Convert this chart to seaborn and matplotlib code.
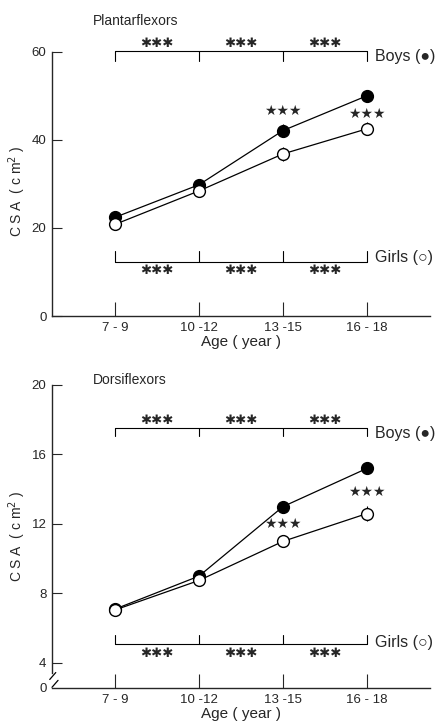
import numpy as np
import pandas as pd
import matplotlib
matplotlib.use("Agg")
import matplotlib.pyplot as plt
import seaborn as sns

# ---- data ----
ages = ["7-9", "10-12", "13-15", "16-18"]
age_labels = ["7 - 9", "10 -12", "13 -15", "16 - 18"]

pf_boys = [22.4, 29.8, 42.1, 50.0]
pf_girls = [20.8, 28.4, 36.8, 42.5]
pf_boys_se = [1.4, 1.4, 1.4, 1.3]
pf_girls_se = [1.3, 1.3, 1.5, 1.5]

df_boys = [7.1, 9.0, 13.0, 15.2]
df_girls = [7.05, 8.75, 11.0, 12.6]
df_boys_se = [0.3, 0.3, 0.35, 0.35]
df_girls_se = [0.3, 0.3, 0.35, 0.45]

pf_yticks = [0, 20, 40, 60]
df_yticks = [4, 8, 12, 16, 20]

sns.set_style("ticks")
plt.rcParams["font.family"] = ["Liberation Sans", "DejaVu Sans"]

fig = plt.figure(figsize=(4.44, 7.22), dpi=100)
ax1 = fig.add_axes([0.1171, 0.5623, 0.8514, 0.3661])
ax2 = fig.add_axes([0.1171, 0.0471, 0.8514, 0.4197])

pos = np.arange(len(ages))
AST = "\u2731\u2731\u2731"
STAR = "\u2605\u2605\u2605"


def draw_series(ax, vals, se, face):
    ax.errorbar(pos, vals, yerr=se, fmt="none", ecolor="black", elinewidth=0.8, capsize=0, zorder=1)
    sns.lineplot(x=pos, y=vals, ax=ax, color="black", marker="o", markersize=8.5,
                 markerfacecolor=face, markeredgecolor="black", markeredgewidth=1.0,
                 linewidth=0.9, zorder=2)


def bracket(ax, y, tick, stars_y, label, label_y):
    # horizontal bracket spanning the age groups, small ticks at each group
    ax.plot([pos[0], pos[-1]], [y, y], color="black", lw=0.8, clip_on=False)
    for p in pos:
        ax.plot([p, p], [y, y + tick], color="black", lw=0.8, clip_on=False)
    for p in pos[:-1]:
        ax.text(p + 0.5, stars_y, AST, ha="center", va="center", fontsize=9.5,
                family="DejaVu Sans", clip_on=False)
    ax.text(pos[-1] + 0.1, label_y, label, ha="left", va="center", fontsize=11.5, clip_on=False)


def style_axes(ax):
    sns.despine(ax=ax)
    ax.set_xlim(-0.75, 3.75)
    ax.set_xticks(pos)
    ax.set_xticklabels(age_labels, fontsize=9.5)
    ax.tick_params(axis="x", direction="in", length=10, width=0.8, pad=4)
    ax.tick_params(axis="y", direction="in", length=7, width=0.8, pad=4, labelsize=9.5)
    for s in ["left", "bottom"]:
        ax.spines[s].set_linewidth(1.0)
    ax.set_xlabel("Age ( year )", fontsize=11, labelpad=1)


# ---- Plantarflexors ----
draw_series(ax1, pf_boys, pf_boys_se, "black")
draw_series(ax1, pf_girls, pf_girls_se, "white")
style_axes(ax1)
ax1.set_ylim(0, 60)
ax1.set_yticks(pf_yticks)
ax1.set_ylabel("C S A  ( c m$^2$ )", fontsize=10, va="center")
ax1.yaxis.set_label_coords(-0.093, 0.47)
ax1.text(0.108, 1.116, "Plantarflexors", transform=ax1.transAxes, fontsize=10, va="center")
bracket(ax1, 60.2, -2.3, 61.8, "Boys (\u25cf)", 59.0)
bracket(ax1, 12.2, 2.6, 10.3, "Girls (\u25cb)", 13.3)
ax1.text(2.0, 46.5, STAR, ha="center", va="center", fontsize=10)
ax1.text(3.0, 45.8, STAR, ha="center", va="center", fontsize=10)

# ---- Dorsiflexors ----
draw_series(ax2, df_boys, df_boys_se, "black")
draw_series(ax2, df_girls, df_girls_se, "white")
style_axes(ax2)
y0 = 2.56
ax2.set_ylim(y0, 20)
ax2.set_yticks([y0] + df_yticks)
ax2.set_yticklabels(["0"] + [str(t) for t in df_yticks])
ax2.yaxis.get_major_ticks()[0].tick1line.set_visible(False)
ax2.spines["left"].set_bounds(3.42, 20)
ax2.set_ylabel("C S A  ( c m$^2$ )", fontsize=10, va="center")
ax2.yaxis.set_label_coords(-0.093, 0.5)
ax2.text(0.108, 1.016, "Dorsiflexors", transform=ax2.transAxes, fontsize=10, va="center")
bracket(ax2, 17.54, -0.5, 17.95, "Boys (\u25cf)", 17.18)
bracket(ax2, 5.09, 0.5, 4.57, "Girls (\u25cb)", 5.2)
ax2.text(2.0, 12.0, STAR, ha="center", va="center", fontsize=10)
ax2.text(3.0, 13.85, STAR, ha="center", va="center", fontsize=10)

# axis break marks
trans = ax2.get_yaxis_transform()
ax2.plot([-0.006, 0.01], [3.05, 3.45], transform=trans, color="black", lw=0.9, clip_on=False)
ax2.plot([0.0, 0.016], [2.6, 3.0], transform=trans, color="black", lw=0.9, clip_on=False)

fig.savefig("out.png", dpi=100)
